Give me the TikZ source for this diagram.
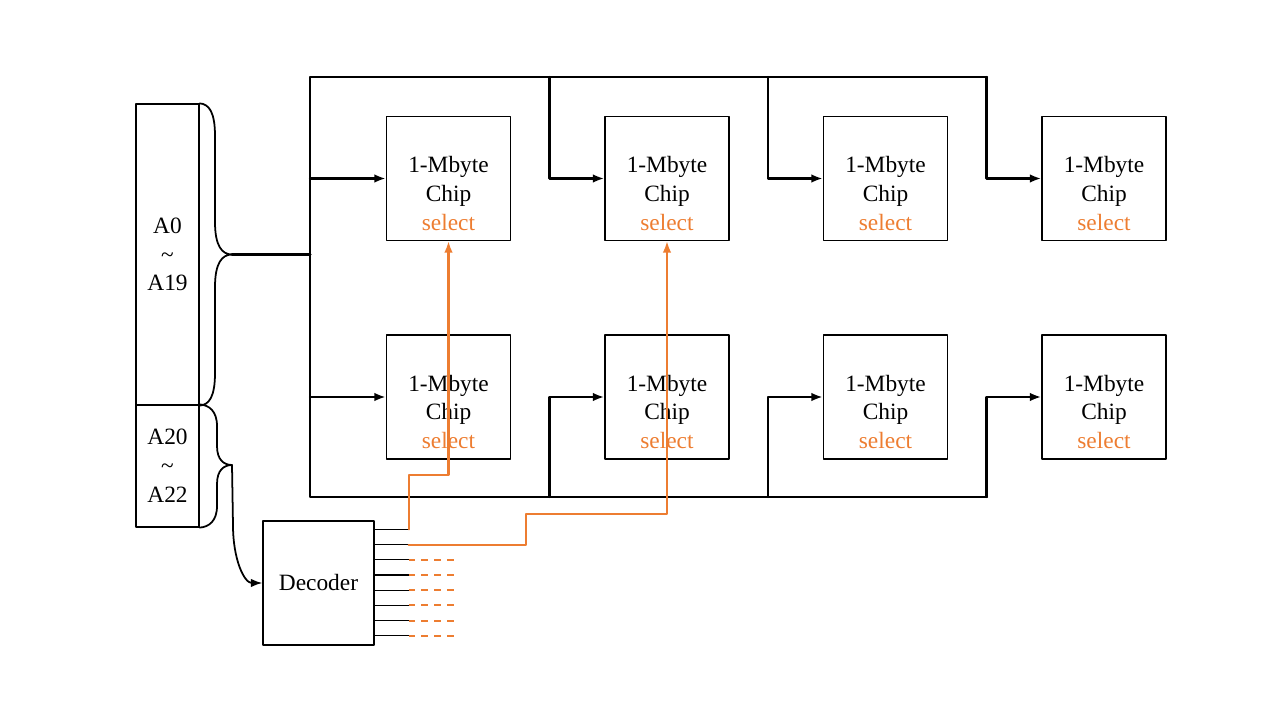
\documentclass[tikz,border=0pt]{standalone}
\usepackage{fontspec}
\setmainfont{Liberation Serif}
\usepackage{xcolor}
\usetikzlibrary{positioning,calc,arrows.meta}

\definecolor{selorange}{RGB}{237,125,49}

\begin{document}
\begin{tikzpicture}[
				x=0.2mm,y=-0.2mm,
				line cap=round,line join=round,
				font=\fontsize{13.3}{16.4}\selectfont,
				chipbox/.style={draw=black, line width=0.7pt, minimum width=2.48cm, minimum height=2.48cm, inner sep=0pt},
				addrbox/.style={draw=black, line width=0.7pt, minimum width=1.26cm, align=center, inner sep=0pt},
				bus/.style={black, line width=1.3pt},
				sel/.style={selorange, line width=1.2pt},
				arrowin/.style={-{Latex[length=2.3mm,width=1.7mm]}}
				]
				% ---- parameters
				\def\colW{218.5}
				\def\xA{448.5}
				
				\useasboundingbox (0,0) rectangle (1280,720);
				
				% address boxes
				\node[addrbox, minimum height=6.02cm] (lo) at (167.5,254.5) {A0\\\textasciitilde\\A19};
				\node[addrbox, minimum height=2.44cm] (hi) at (167.5,466) {A20\\\textasciitilde\\A22};
				
				% braces
				\coordinate (loTip) at (232,254.5);
				\coordinate (hiTip) at (232,465);
				\draw[black, line width=1pt]
				(lo.north east) .. controls (209,104) and (215,112) .. (215,136) -- (215,222)
				.. controls (215,246) and (222,254.5) .. (loTip)
				.. controls (222,254.5) and (215,263) .. (215,287) -- (215,373)
				.. controls (215,397) and (209,405) .. (lo.south east);
				\draw[black, line width=1pt]
				(hi.north east) .. controls (209,405) and (217,411) .. (217,426) -- (217,446)
				.. controls (217,460) and (224,465) .. (hiTip)
				.. controls (224,465) and (217,470) .. (217,484) -- (217,506)
				.. controls (217,521) and (209,527) .. (hi.south east);
				
				% bus
				\coordinate (bTL) at (310,77);
				\coordinate (bBL) at (310,497);
				\coordinate (bTR) at (987,77);
				\coordinate (bBR) at (987,497);
				\draw[bus] (bTR) -- (bTL) -- (bBL) -- (bBR);
				\draw[black, line width=1.9pt] (loTip) -- (loTip -| bTL);
				
				% chips
				\foreach \c in {1,...,4}{
					\pgfmathsetmacro{\xc}{\xA+(\c-1)*\colW}
					\foreach \r/\yc in {1/178.5, 2/397}{
						\node[chipbox] (c\r\c) at (\xc,\yc) {};
						\node[align=center] (t\r\c) at ([yshift=-0.3cm]c\r\c.center) {1-Mbyte\\Chip\\\textcolor{selorange}{select}};
					}
				}
				
				% feeds
				\draw[bus, arrowin] (c11.west -| bTL) -- (c11.west);
				\draw[bus, arrowin] (c21.west -| bTL) -- (c21.west);
				\foreach \c in {2,3,4}{
					\coordinate (j1\c) at ([xshift=-1.1cm]c1\c.west);
					\coordinate (j2\c) at ([xshift=-1.1cm]c2\c.west);
					\draw[bus, arrowin] (j1\c |- bTL) -- (j1\c) -- (c1\c.west);
					\draw[bus, arrowin] (j2\c |- bBL) -- (j2\c) -- (c2\c.west);
				}
				
				% decoder
				\node[draw=black, line width=0.7pt, minimum width=2.22cm, minimum height=2.48cm, inner sep=0pt] (dec) at (318.5,583) {Decoder};
				\draw[black, line width=1pt, arrowin] (hiTip) -- ++(1,60) .. controls +(0,35) and +(-18,0) .. (dec.west);
				
				% outputs
				\foreach \k in {0,...,7}{
					\coordinate (o\k) at ([yshift={-(0.18+\k*0.304)*1cm}]dec.north east);
					\draw[black, line width=0.7pt] (o\k) -- ++(34,0) coordinate (e\k);
				}
				\foreach \k in {2,...,7}{
					\draw[sel, dash pattern=on 3.9pt off 3.4pt, line cap=butt] (e\k) -- ++(47,0);
				}
				
				% select lines
				\coordinate (k1) at ([yshift=-0.3cm]c21.south);
				\coordinate (k2) at ([yshift=-0.34cm]c22.south |- bBL);
				\draw[sel, arrowin] (e0) -- (e0 |- k1) -- (k1) -- (c11.south);
				\draw[sel, arrowin] (e1) -- ++(117,0) |- (k2) -- (c12.south);
			\end{tikzpicture}
\end{document}
